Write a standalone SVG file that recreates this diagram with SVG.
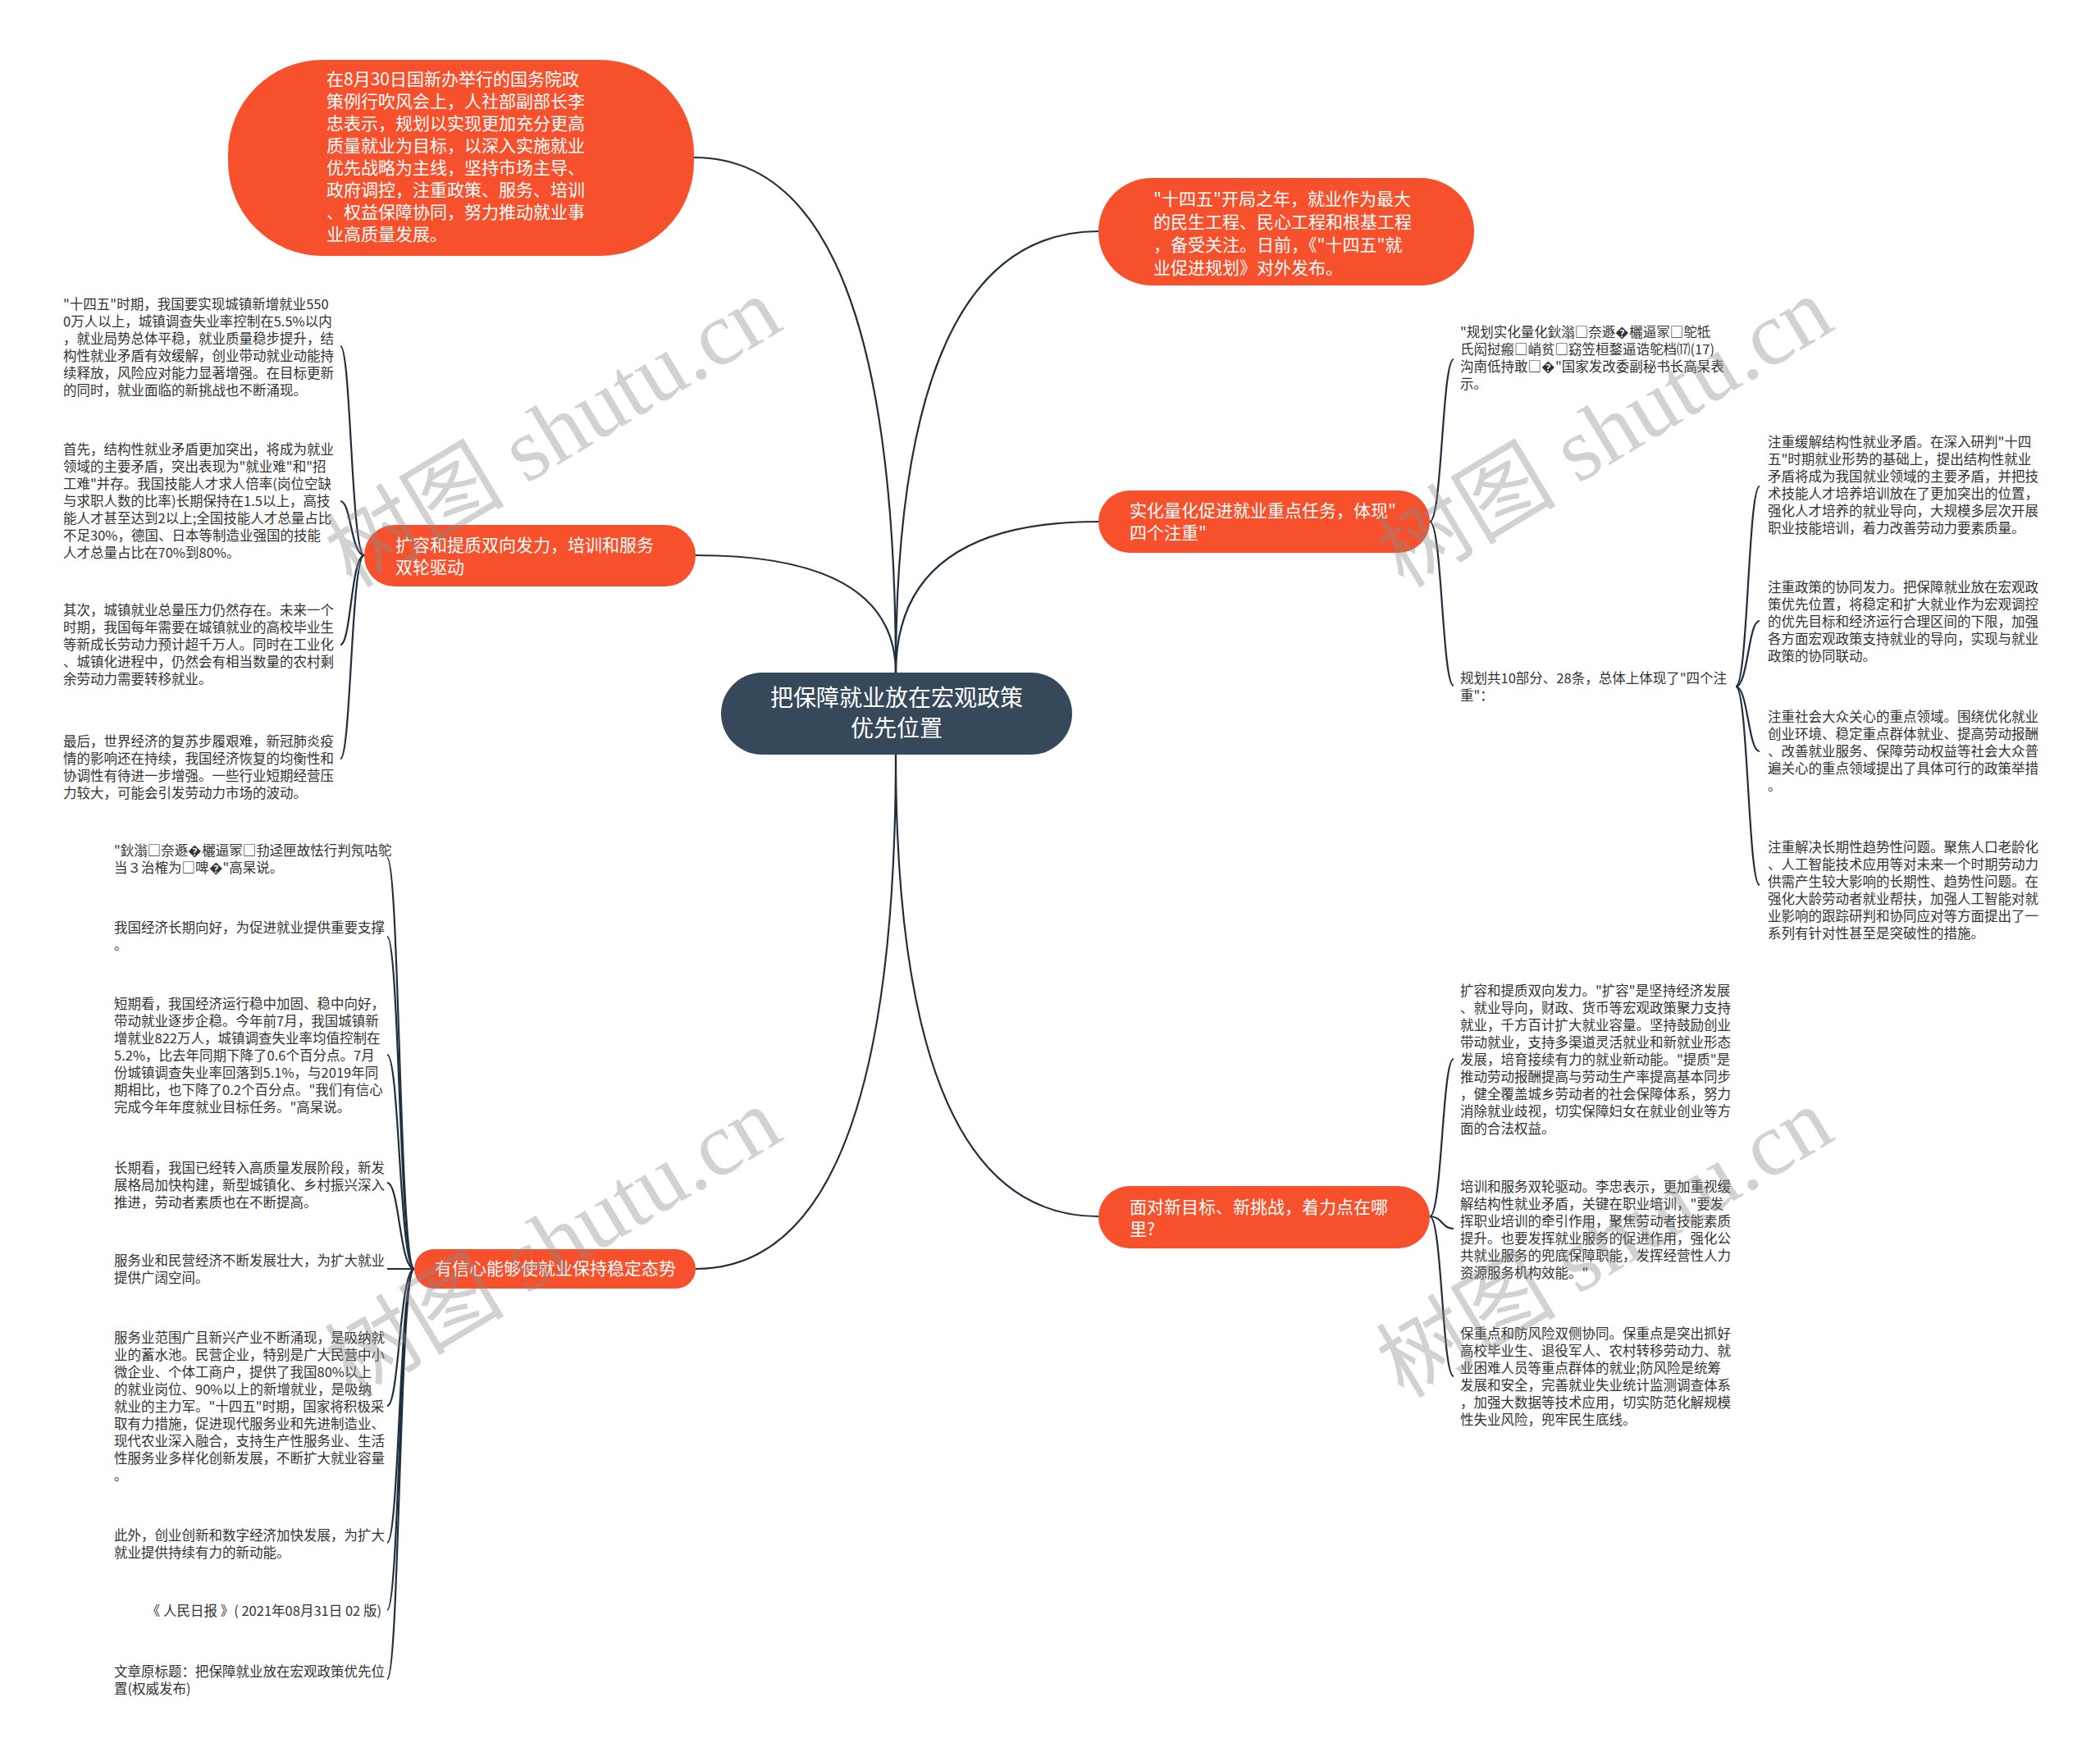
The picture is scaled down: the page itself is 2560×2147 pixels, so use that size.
<svg xmlns="http://www.w3.org/2000/svg" width="2560" height="2147" viewBox="0 0 2560 2147">
<style>
.bg{fill:#ffffff}
.on{fill:#f6512c}
.cn{fill:#35495b}
.tn{fill:#ffffff;font-family:"Noto Sans CJK SC","Liberation Sans",sans-serif;font-size:21px}
.tc{fill:#ffffff;font-family:"Noto Sans CJK SC","Liberation Sans",sans-serif;font-size:28px}
.ts{fill:#333333;font-family:"Noto Sans CJK SC","Liberation Sans",sans-serif;font-size:16.5px}
.conn path{fill:none;stroke:#1f2f3f;stroke-width:2.2}
.wm{fill:#8a8a8a;fill-opacity:0.38;font-family:"Liberation Serif","Noto Sans CJK SC",serif;font-size:110px}
</style>
<rect class="bg" x="0" y="0" width="2560" height="2147"/>

<g id="connectors" class="conn">
  <path d="M1092,821 Q1092,192 846,192"/>
  <path d="M1092,821 Q1092,282 1339,282"/>
  <path d="M1092,821 Q1092,677 848,677"/>
  <path d="M1092,821 Q1092,636 1339,636"/>
  <path d="M1092,919 Q1092,1547 848,1547"/>
  <path d="M1092,919 Q1092,1483 1339,1483"/>
  <path d="M444,677 C428,677 428,422 415,422"/>
  <path d="M444,677 C428,677 428,611 415,611"/>
  <path d="M444,677 C428,677 428,786 415,786"/>
  <path d="M444,677 C428,677 428,925 415,925"/>
  <path d="M505,1547 C487,1547 487,1046 472,1046"/>
  <path d="M505,1547 C487,1547 487,1142 472,1142"/>
  <path d="M505,1547 C487,1547 487,1286 472,1286"/>
  <path d="M505,1547 C487,1547 487,1442 472,1442"/>
  <path d="M505,1547 L472,1547"/>
  <path d="M505,1547 C487,1547 487,1714 472,1714"/>
  <path d="M505,1547 C487,1547 487,1881 472,1881"/>
  <path d="M505,1547 C487,1547 487,1963 472,1963"/>
  <path d="M505,1547 C487,1547 487,2047 472,2047"/>
  <path d="M1743,636 C1758,636 1758,438 1772,438"/>
  <path d="M1743,636 C1758,636 1758,836 1772,836"/>
  <path d="M2116,837 C2131,837 2131,593 2145,593"/>
  <path d="M2116,837 C2131,837 2131,757 2145,757"/>
  <path d="M2116,837 C2131,837 2131,916 2145,916"/>
  <path d="M2116,837 C2131,837 2131,1079 2145,1079"/>
  <path d="M1743,1483 C1758,1483 1758,1291 1772,1291"/>
  <path d="M1743,1483 C1758,1483 1758,1498 1772,1498"/>
  <path d="M1743,1483 C1758,1483 1758,1678 1772,1678"/>
</g>

<g id="n-center">
  <rect class="cn" x="879" y="820" width="428" height="100" rx="50"/>
  <text class="tc" text-anchor="middle"><tspan x="1093" y="861">把保障就业放在宏观政策</tspan><tspan x="1093" y="898">优先位置</tspan></text>
</g>

<g id="n-top-left">
  <rect class="on" x="278" y="73" width="568" height="239" rx="115"/>
  <text class="tn"><tspan x="398" y="104">在8月30日国新办举行的国务院政</tspan><tspan x="398" y="131">策例行吹风会上，人社部副部长李</tspan><tspan x="398" y="158">忠表示，规划以实现更加充分更高</tspan><tspan x="398" y="185">质量就业为目标，以深入实施就业</tspan><tspan x="398" y="212">优先战略为主线，坚持市场主导、</tspan><tspan x="398" y="239">政府调控，注重政策、服务、培训</tspan><tspan x="398" y="266">、权益保障协同，努力推动就业事</tspan><tspan x="398" y="293">业高质量发展。</tspan></text>
</g>

<g id="n-top-right">
  <rect class="on" x="1339" y="217" width="458" height="131" rx="65"/>
  <text class="tn"><tspan x="1406" y="250">"十四五"开局之年，就业作为最大</tspan><tspan x="1406" y="278">的民生工程、民心工程和根基工程</tspan><tspan x="1406" y="306">，备受关注。日前，《"十四五"就</tspan><tspan x="1406" y="334">业促进规划》对外发布。</tspan></text>
</g>

<g id="n-sihua">
  <rect class="on" x="1339" y="598" width="404" height="76" rx="38"/>
  <text class="tn"><tspan x="1377" y="630">实化量化促进就业重点任务，体现"</tspan><tspan x="1377" y="657">四个注重"</tspan></text>
</g>

<g id="n-mianDui">
  <rect class="on" x="1339" y="1446" width="404" height="76" rx="38"/>
  <text class="tn"><tspan x="1377" y="1479">面对新目标、新挑战，着力点在哪</tspan><tspan x="1377" y="1506">里?</tspan></text>
</g>

<g id="n-kuorong">
  <rect class="on" x="444" y="640" width="404" height="75" rx="37"/>
  <text class="tn"><tspan x="482" y="672">扩容和提质双向发力，培训和服务</tspan><tspan x="482" y="699">双轮驱动</tspan></text>
</g>

<g id="n-xinxin">
  <rect class="on" x="505" y="1523" width="343" height="48" rx="24"/>
  <text class="tn" text-anchor="middle"><tspan x="677" y="1554">有信心能够使就业保持稳定态势</tspan></text>
</g>

<g id="t-lt1"><text class="ts"><tspan x="77" y="377">"十四五"时期，我国要实现城镇新增就业550</tspan><tspan x="77" y="398">0万人以上，城镇调查失业率控制在5.5%以内</tspan><tspan x="77" y="419">，就业局势总体平稳，就业质量稳步提升，结</tspan><tspan x="77" y="440">构性就业矛盾有效缓解，创业带动就业动能持</tspan><tspan x="77" y="461">续释放，风险应对能力显著增强。在目标更新</tspan><tspan x="77" y="482">的同时，就业面临的新挑战也不断涌现。</tspan></text></g>

<g id="t-lt2"><text class="ts"><tspan x="77" y="554">首先，结构性就业矛盾更加突出，将成为就业</tspan><tspan x="77" y="575">领域的主要矛盾，突出表现为"就业难"和"招</tspan><tspan x="77" y="596">工难"并存。我国技能人才求人倍率(岗位空缺</tspan><tspan x="77" y="617">与求职人数的比率)长期保持在1.5以上，高技</tspan><tspan x="77" y="638">能人才甚至达到2以上;全国技能人才总量占比</tspan><tspan x="77" y="659">不足30%，德国、日本等制造业强国的技能</tspan><tspan x="77" y="680">人才总量占比在70%到80%。</tspan></text></g>

<g id="t-lt3"><text class="ts"><tspan x="77" y="750">其次，城镇就业总量压力仍然存在。未来一个</tspan><tspan x="77" y="771">时期，我国每年需要在城镇就业的高校毕业生</tspan><tspan x="77" y="792">等新成长劳动力预计超千万人。同时在工业化</tspan><tspan x="77" y="813">、城镇化进程中，仍然会有相当数量的农村剩</tspan><tspan x="77" y="834">余劳动力需要转移就业。</tspan></text></g>

<g id="t-lt4"><text class="ts"><tspan x="77" y="910">最后，世界经济的复苏步履艰难，新冠肺炎疫</tspan><tspan x="77" y="931">情的影响还在持续，我国经济恢复的均衡性和</tspan><tspan x="77" y="952">协调性有待进一步增强。一些行业短期经营压</tspan><tspan x="77" y="973">力较大，可能会引发劳动力市场的波动。</tspan></text></g>

<g id="t-r1"><text class="ts"><tspan x="1780" y="411">"规划实化量化鈥滃□奈遯�欐逼冡□鸵牴</tspan><tspan x="1780" y="432">氏闳挝瘢□峭贫□窈笠桓鍪逼诰鸵档⒄(17)</tspan><tspan x="1780" y="453">沟南低持敢□�"国家发改委副秘书长高杲表</tspan><tspan x="1780" y="474">示。</tspan></text></g>

<g id="t-r2"><text class="ts"><tspan x="1780" y="833">规划共10部分、28条，总体上体现了"四个注</tspan><tspan x="1780" y="854">重"：</tspan></text></g>

<g id="t-r3a"><text class="ts"><tspan x="2155" y="545">注重缓解结构性就业矛盾。在深入研判"十四</tspan><tspan x="2155" y="566">五"时期就业形势的基础上，提出结构性就业</tspan><tspan x="2155" y="587">矛盾将成为我国就业领域的主要矛盾，并把技</tspan><tspan x="2155" y="608">术技能人才培养培训放在了更加突出的位置，</tspan><tspan x="2155" y="629">强化人才培养的就业导向，大规模多层次开展</tspan><tspan x="2155" y="650">职业技能培训，着力改善劳动力要素质量。</tspan></text></g>

<g id="t-r3b"><text class="ts"><tspan x="2155" y="722">注重政策的协同发力。把保障就业放在宏观政</tspan><tspan x="2155" y="743">策优先位置，将稳定和扩大就业作为宏观调控</tspan><tspan x="2155" y="764">的优先目标和经济运行合理区间的下限，加强</tspan><tspan x="2155" y="785">各方面宏观政策支持就业的导向，实现与就业</tspan><tspan x="2155" y="806">政策的协同联动。</tspan></text></g>

<g id="t-r3c"><text class="ts"><tspan x="2155" y="880">注重社会大众关心的重点领域。围绕优化就业</tspan><tspan x="2155" y="901">创业环境、稳定重点群体就业、提高劳动报酬</tspan><tspan x="2155" y="922">、改善就业服务、保障劳动权益等社会大众普</tspan><tspan x="2155" y="943">遍关心的重点领域提出了具体可行的政策举措</tspan><tspan x="2155" y="964">。</tspan></text></g>

<g id="t-r3d"><text class="ts"><tspan x="2155" y="1039">注重解决长期性趋势性问题。聚焦人口老龄化</tspan><tspan x="2155" y="1060">、人工智能技术应用等对未来一个时期劳动力</tspan><tspan x="2155" y="1081">供需产生较大影响的长期性、趋势性问题。在</tspan><tspan x="2155" y="1102">强化大龄劳动者就业帮扶，加强人工智能对就</tspan><tspan x="2155" y="1123">业影响的跟踪研判和协同应对等方面提出了一</tspan><tspan x="2155" y="1144">系列有针对性甚至是突破性的措施。</tspan></text></g>

<g id="t-r4a"><text class="ts"><tspan x="1780" y="1214">扩容和提质双向发力。"扩容"是坚持经济发展</tspan><tspan x="1780" y="1235">、就业导向，财政、货币等宏观政策聚力支持</tspan><tspan x="1780" y="1256">就业，千方百计扩大就业容量。坚持鼓励创业</tspan><tspan x="1780" y="1277">带动就业，支持多渠道灵活就业和新就业形态</tspan><tspan x="1780" y="1298">发展，培育接续有力的就业新动能。"提质"是</tspan><tspan x="1780" y="1319">推动劳动报酬提高与劳动生产率提高基本同步</tspan><tspan x="1780" y="1340">，健全覆盖城乡劳动者的社会保障体系，努力</tspan><tspan x="1780" y="1361">消除就业歧视，切实保障妇女在就业创业等方</tspan><tspan x="1780" y="1382">面的合法权益。</tspan></text></g>

<g id="t-r4b"><text class="ts"><tspan x="1780" y="1453">培训和服务双轮驱动。李忠表示，更加重视缓</tspan><tspan x="1780" y="1474">解结构性就业矛盾，关键在职业培训，"要发</tspan><tspan x="1780" y="1495">挥职业培训的牵引作用，聚焦劳动者技能素质</tspan><tspan x="1780" y="1516">提升。也要发挥就业服务的促进作用，强化公</tspan><tspan x="1780" y="1537">共就业服务的兜底保障职能，发挥经营性人力</tspan><tspan x="1780" y="1558">资源服务机构效能。"</tspan></text></g>

<g id="t-r4c"><text class="ts"><tspan x="1780" y="1632">保重点和防风险双侧协同。保重点是突出抓好</tspan><tspan x="1780" y="1653">高校毕业生、退役军人、农村转移劳动力、就</tspan><tspan x="1780" y="1674">业困难人员等重点群体的就业;防风险是统筹</tspan><tspan x="1780" y="1695">发展和安全，完善就业失业统计监测调查体系</tspan><tspan x="1780" y="1716">，加强大数据等技术应用，切实防范化解规模</tspan><tspan x="1780" y="1737">性失业风险，兜牢民生底线。</tspan></text></g>

<g id="t-lb1"><text class="ts"><tspan x="139" y="1043">"鈥滃□奈遯�欐逼冡□劧迳匣故怯行判氖咕鸵</tspan><tspan x="139" y="1064">当３治榷为□啤�"高杲说。</tspan></text></g>

<g id="t-lb2"><text class="ts"><tspan x="139" y="1137">我国经济长期向好，为促进就业提供重要支撑</tspan><tspan x="139" y="1158">。</tspan></text></g>

<g id="t-lb3"><text class="ts"><tspan x="139" y="1230">短期看，我国经济运行稳中加固、稳中向好，</tspan><tspan x="139" y="1251">带动就业逐步企稳。今年前7月，我国城镇新</tspan><tspan x="139" y="1272">增就业822万人，城镇调查失业率均值控制在</tspan><tspan x="139" y="1293">5.2%，比去年同期下降了0.6个百分点。7月</tspan><tspan x="139" y="1314">份城镇调查失业率回落到5.1%，与2019年同</tspan><tspan x="139" y="1335">期相比，也下降了0.2个百分点。"我们有信心</tspan><tspan x="139" y="1356">完成今年年度就业目标任务。"高杲说。</tspan></text></g>

<g id="t-lb4"><text class="ts"><tspan x="139" y="1430">长期看，我国已经转入高质量发展阶段，新发</tspan><tspan x="139" y="1451">展格局加快构建，新型城镇化、乡村振兴深入</tspan><tspan x="139" y="1472">推进，劳动者素质也在不断提高。</tspan></text></g>

<g id="t-lb5"><text class="ts"><tspan x="139" y="1543">服务业和民营经济不断发展壮大，为扩大就业</tspan><tspan x="139" y="1564">提供广阔空间。</tspan></text></g>

<g id="t-lb6"><text class="ts"><tspan x="139" y="1637">服务业范围广且新兴产业不断涌现，是吸纳就</tspan><tspan x="139" y="1658">业的蓄水池。民营企业，特别是广大民营中小</tspan><tspan x="139" y="1679">微企业、个体工商户，提供了我国80%以上</tspan><tspan x="139" y="1700">的就业岗位、90%以上的新增就业，是吸纳</tspan><tspan x="139" y="1721">就业的主力军。"十四五"时期，国家将积极采</tspan><tspan x="139" y="1742">取有力措施，促进现代服务业和先进制造业、</tspan><tspan x="139" y="1763">现代农业深入融合，支持生产性服务业、生活</tspan><tspan x="139" y="1784">性服务业多样化创新发展，不断扩大就业容量</tspan><tspan x="139" y="1805">。</tspan></text></g>

<g id="t-lb7"><text class="ts"><tspan x="139" y="1878">此外，创业创新和数字经济加快发展，为扩大</tspan><tspan x="139" y="1899">就业提供持续有力的新动能。</tspan></text></g>

<g id="t-lb8"><text class="ts" text-anchor="end"><tspan x="465" y="1970">《 人民日报 》( 2021年08月31日 02 版)</tspan></text></g>

<g id="t-lb9"><text class="ts"><tspan x="139" y="2044">文章原标题：把保障就业放在宏观政策优先位</tspan><tspan x="139" y="2065">置(权威发布)</tspan></text></g>

<g id="watermark" class="wm" text-anchor="end">
  <text transform="translate(958,400) rotate(-31)">树图 shutu.cn</text>
  <text transform="translate(2240,400) rotate(-31)">树图 shutu.cn</text>
  <text transform="translate(958,1388) rotate(-31)">树图 shutu.cn</text>
  <text transform="translate(2240,1388) rotate(-31)">树图 shutu.cn</text>
</g>
</svg>
